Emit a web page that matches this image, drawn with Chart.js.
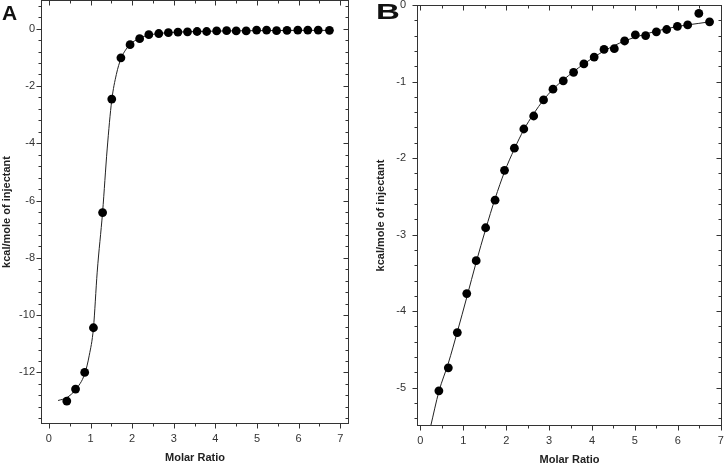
<!DOCTYPE html>
<html>
<head>
<meta charset="utf-8">
<script src="https://cdn.jsdelivr.net/npm/chart.js@4"></script>
<style>
  html, body { margin:0; padding:0; background:#fff; }
  body { width:725px; height:464px; position:relative; overflow:hidden; font-family:'Liberation Sans', Arial, sans-serif; }
  .panel { position:absolute; top:0; height:464px; }
  .lbl { position:absolute; font-weight:bold; line-height:1; color:#111; font-family:'Liberation Sans', Arial, sans-serif; }
</style>
</head>
<body>
<div class="panel" style="left:0;width:362px"><canvas id="chartA"></canvas></div>
<div class="panel" style="left:362px;width:363px"><canvas id="chartB"></canvas></div>
<div class="lbl" style="left:2px;top:2px;font-size:21px">A</div>
<div class="lbl" style="left:376px;top:1px;font-size:22px;transform:scaleX(1.5);transform-origin:left top">B</div>
<script>
// ---------- Data ----------
const xTitle = 'Molar Ratio';
const yTitle = 'kcal/mole of injectant';

// Panel A: injection points
const aRatio = [0.43,0.64,0.86,1.07,1.29,1.51,1.73,1.95,2.18,2.40,2.64,2.87,3.10,3.33,3.56,3.79,4.03,4.27,4.50,4.74,4.99,5.23,5.47,5.72,5.98,6.22,6.47,6.74];
const aHeat  = [-13.0,-12.58,-12.0,-10.44,-6.42,-2.46,-1.02,-0.56,-0.35,-0.21,-0.17,-0.14,-0.12,-0.11,-0.10,-0.10,-0.08,-0.07,-0.08,-0.08,-0.05,-0.05,-0.07,-0.06,-0.05,-0.05,-0.05,-0.06];
// Panel A: fitted curve
const aFitRatio = [0.22,0.43,0.64,0.86,0.97,1.07,1.16,1.29,1.40,1.51,1.62,1.73,1.84,1.95,2.18,2.40,2.64,2.87,3.10,3.56,4.03,4.50,5.00,5.50,6.00,6.50,6.78];
const aFitHeat  = [-12.98,-12.88,-12.6,-12.05,-11.4,-10.45,-8.5,-6.4,-4.2,-2.5,-1.6,-1.05,-0.75,-0.55,-0.33,-0.23,-0.17,-0.14,-0.12,-0.10,-0.085,-0.075,-0.07,-0.065,-0.06,-0.06,-0.06];

// Panel B: injection points
const bRatio = [0.43,0.65,0.86,1.08,1.30,1.52,1.74,1.96,2.19,2.41,2.64,2.87,3.09,3.33,3.57,3.81,4.05,4.28,4.52,4.76,5.01,5.25,5.50,5.74,5.99,6.23,6.49,6.74];
const bHeat  = [-5.04,-4.74,-4.28,-3.77,-3.34,-2.91,-2.55,-2.16,-1.87,-1.62,-1.45,-1.24,-1.10,-0.99,-0.88,-0.77,-0.68,-0.58,-0.57,-0.47,-0.39,-0.40,-0.35,-0.32,-0.28,-0.26,-0.11,-0.22];
// Panel B: fitted curve
const bFitRatio = [0.24,0.43,0.65,0.86,1.08,1.30,1.52,1.74,1.96,2.19,2.41,2.64,2.87,3.09,3.33,3.57,3.81,4.05,4.28,4.52,4.76,5.01,5.25,5.50,5.74,5.99,6.23,6.49,6.74];
const bFitHeat  = [-5.5,-5.05,-4.68,-4.27,-3.82,-3.36,-2.93,-2.53,-2.18,-1.88,-1.63,-1.42,-1.24,-1.10,-0.98,-0.87,-0.77,-0.68,-0.60,-0.53,-0.47,-0.42,-0.38,-0.34,-0.31,-0.28,-0.26,-0.24,-0.22];

// Axis tick steps
const xMajor = 1, xMinor = 0.5;
const aYMajor = 2, aYMinor = 0.4;
const bYMajor = 1, bYMinor = 0.2;

// ---------- helpers ----------
const FONT = "'Liberation Sans', Arial, sans-serif";
function pts(xs, ys) { return xs.map((x, i) => ({x: x, y: ys[i]})); }

// Frame + Origin-style ticks (left/bottom outward, top/right inward)
const frameTicks = {
  id: 'frameTicks',
  afterDraw(chart, args, opts) {
    const {ctx, chartArea: ca, scales: {x, y}} = chart;
    const L = Math.round(ca.left) + 0.5, R = Math.round(ca.right) - 0.5;
    const T = Math.round(ca.top) + 0.5, B = Math.round(ca.bottom) - 0.5;
    ctx.save();
    ctx.strokeStyle = '#333';
    ctx.lineWidth = 1;
    ctx.strokeRect(L, T, R - L, B - T);
    ctx.beginPath();
    const isMajor = (v, m) => Math.abs(v / m - Math.round(v / m)) < 1e-6;
    // x ticks
    for (let k = Math.ceil(x.min / opts.xMinor - 1e-9); k * opts.xMinor <= x.max + 1e-9; k++) {
      const v = k * opts.xMinor;
      const px = Math.round(x.getPixelForValue(v)) + 0.5;
      const len = isMajor(v, opts.xMajor) ? 5 : 3;
      ctx.moveTo(px, B); ctx.lineTo(px, B + len);
      ctx.moveTo(px, T); ctx.lineTo(px, T + len);
    }
    // y ticks
    for (let k = Math.ceil(y.min / opts.yMinor - 1e-9); k * opts.yMinor <= y.max + 1e-9; k++) {
      const v = k * opts.yMinor;
      const py = Math.round(y.getPixelForValue(v)) + 0.5;
      const len = isMajor(v, opts.yMajor) ? 5 : 3;
      ctx.moveTo(L, py); ctx.lineTo(L - len, py);
      ctx.moveTo(R, py); ctx.lineTo(R - len, py);
    }
    ctx.stroke();
    ctx.restore();
  }
};

function makeChart(id, cfg) {
  return new Chart(document.getElementById(id), {
    type: 'scatter',
    data: {
      datasets: [
        {
          label: 'data',
          data: pts(cfg.xs, cfg.ys),
          backgroundColor: '#000',
          borderWidth: 0,
          pointRadius: 4.4,
          pointHoverRadius: 4.4,
          order: 0
        },
        {
          label: 'fit',
          type: 'line',
          data: pts(cfg.fx, cfg.fy),
          borderColor: '#222',
          borderWidth: 1,
          pointRadius: 0,
          fill: false,
          cubicInterpolationMode: 'monotone',
          order: 1
        }
      ]
    },
    options: {
      responsive: true,
      maintainAspectRatio: false,
      devicePixelRatio: 1,
      animation: false,
      events: [],
      layout: { padding: cfg.pad, autoPadding: false },
      plugins: {
        legend: { display: false },
        tooltip: { enabled: false },
        frameTicks: { xMajor: xMajor, xMinor: xMinor, yMajor: cfg.yMajor, yMinor: cfg.yMinor }
      },
      scales: {
        x: {
          type: 'linear',
          position: 'bottom',
          min: cfg.xMin, max: cfg.xMax,
          grid: { display: false, drawTicks: false },
          border: { display: false },
          ticks: { stepSize: xMajor, includeBounds: false, padding: 8, color: '#333', font: { family: FONT, size: 11 }, maxRotation: 0 },
          title: { display: true, text: xTitle, color: '#222', font: { family: FONT, size: 11, weight: 'bold', lineHeight: 1 }, padding: { top: 0, bottom: cfg.xtPad } },
          afterFit: s => { s.height = cfg.xH; s.paddingLeft = 0; s.paddingRight = 0; }
        },
        y: {
          type: 'linear',
          position: 'left',
          min: cfg.yMin, max: cfg.yMax,
          grid: { display: false, drawTicks: false },
          border: { display: false },
          ticks: { stepSize: cfg.yMajor, includeBounds: false, padding: cfg.ylPad, color: '#333', font: { family: FONT, size: 11 } },
          title: { display: true, text: yTitle, color: '#222', font: { family: FONT, size: 11, weight: 'bold', lineHeight: 1 }, padding: { top: cfg.ytPad, bottom: 0 } },
          afterFit: s => { s.width = cfg.yW; s.paddingTop = 0; s.paddingBottom = 0; }
        }
      }
    },
    plugins: [frameTicks]
  });
}

makeChart('chartA', {
  xs: aRatio, ys: aHeat, fx: aFitRatio, fy: aFitHeat,
  xMin: -0.19, xMax: 7.21, yMin: -13.8, yMax: 1.0,
  yMajor: aYMajor, yMinor: aYMinor,
  pad: { left: 0, top: 0, right: 13, bottom: 0 },
  xH: 40, yW: 41, ylPad: 6, xtPad: 0.5, ytPad: 1.5
});

makeChart('chartB', {
  xs: bRatio, ys: bHeat, fx: bFitRatio, fy: bFitHeat,
  xMin: -0.08, xMax: 7.03, yMin: -5.5, yMax: 0,
  yMajor: bYMajor, yMinor: bYMinor,
  pad: { left: 0, top: 5, right: 3, bottom: 0 },
  xH: 38, yW: 55, ylPad: 11, xtPad: -1.5, ytPad: 13.5
});
</script>
</body>
</html>
